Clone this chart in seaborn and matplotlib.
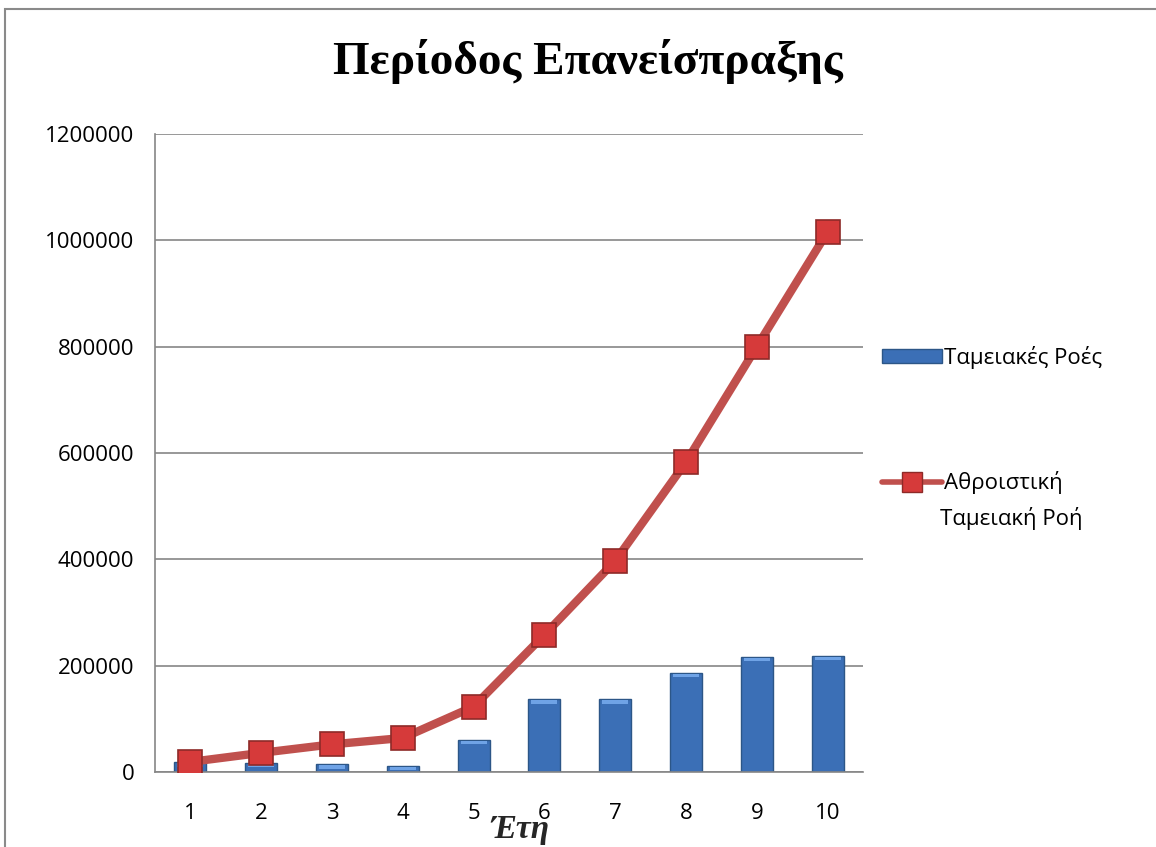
import numpy as np
import pandas as pd
import matplotlib
matplotlib.use("Agg")
import matplotlib.pyplot as plt
from matplotlib.lines import Line2D
from matplotlib.patches import Rectangle
import seaborn as sns

# data
years = ["1", "2", "3", "4", "5", "6", "7", "8", "9", "10"]
cash_flows = [19000, 17500, 15000, 12000, 61000, 137000, 137000, 187000, 217000, 219000]
cumulative = [19000, 36000, 52000, 64000, 123000, 258000, 397000, 583000, 800000, 1016000]
y_ticks = [0, 200000, 400000, 600000, 800000, 1000000, 1200000]

df = pd.DataFrame({"year": years, "flow": cash_flows, "cum": cumulative})

sns.set_style("white")
plt.rcParams["font.family"] = ["Open Sans", "DejaVu Sans"]
plt.rcParams["text.color"] = "black"
plt.rcParams["xtick.color"] = "black"
plt.rcParams["ytick.color"] = "black"

fig = plt.figure(figsize=(11.56, 8.47), dpi=100)
ax = fig.add_axes([155 / 1156, 1 - 772 / 847, (863 - 155) / 1156, (772 - 134) / 847])

bar_col = "#3b6fb6"
line_col = "#c0504d"

sns.barplot(data=df, x="year", y="flow", ax=ax, color=bar_col, width=0.45,
            edgecolor="#2c5687", linewidth=1.0, saturation=1, zorder=2)
# light bevel on the bar tops
for p in ax.patches:
    h = p.get_height()
    if h > 0:
        ax.add_patch(Rectangle((p.get_x() + 0.04, h - min(h, 9000)), p.get_width() - 0.08,
                               min(h, 9000) * 0.8, facecolor="#6fa3e6", edgecolor="none",
                               zorder=2.5))
sns.lineplot(x=np.arange(len(years)), y=df["cum"], ax=ax, color=line_col, linewidth=6,
             marker="s", markersize=17, markerfacecolor="#d63a3a",
             markeredgecolor="#8e2a28", markeredgewidth=1.2, zorder=3)

ax.set_xlim(-0.5, len(years) - 0.5)
ax.set_ylim(0, 1200000)
ax.set_yticks(y_ticks)
ax.set_yticklabels([str(v) for v in y_ticks], fontsize=16)
ax.set_xticks(np.arange(len(years)))
ax.set_xticklabels(years, fontsize=16)
ax.set_xticks(np.arange(len(years) + 1) - 0.5, minor=True)
ax.tick_params(axis="x", which="major", length=0, pad=22)
ax.tick_params(axis="x", which="minor", length=8, color="#868686", width=1.2, direction="out")
ax.tick_params(axis="y", length=7, color="#868686", width=1.2, direction="out", pad=8)
ax.yaxis.grid(True, color="#868686", linewidth=1.2)
ax.set_axisbelow(True)
for s in ["top", "right"]:
    ax.spines[s].set_visible(False)
for s in ["left", "bottom"]:
    ax.spines[s].set_color("#868686")
    ax.spines[s].set_linewidth(1.2)
ax.set_ylabel("")
ax.set_xlabel("Έτη", fontsize=24, fontweight="bold", fontstyle="italic",
              family="Liberation Serif")
ax.xaxis.set_label_coords(0.515, -0.066)

fig.text(588 / 1156, 1 - 62 / 847, "Περίοδος Επανείσπραξης", ha="center", va="center",
         fontsize=34, fontweight="bold", family="Liberation Serif")

handles = [
    Rectangle((0, 0), 1, 1, facecolor=bar_col, edgecolor="#2c5687"),
    Line2D([0], [0], color=line_col, linewidth=4, marker="s", markersize=15,
           markerfacecolor="#d63a3a", markeredgecolor="#8e2a28"),
]
fig.legend(handles, ["Ταμειακές Ροές", "Αθροιστική"],
           loc="upper left", bbox_to_anchor=(882 / 1156, 1 - 346 / 847),
           frameon=False, fontsize=16, handlelength=2.7, handleheight=0.6,
           handletextpad=0.1, labelspacing=4.6, borderaxespad=0, borderpad=0)
fig.text(940 / 1156, 1 - 518 / 847, "Ταμειακή Ροή", ha="left", va="center", fontsize=16)

# grey frame of the chart area
fig.patches.append(Rectangle((5 / 1156, -0.05), 1.1, 1 - 9 / 847 + 0.05,
                             transform=fig.transFigure, fill=False,
                             edgecolor="#8a8a8a", linewidth=1.5))

fig.savefig("out.png", dpi=100)
